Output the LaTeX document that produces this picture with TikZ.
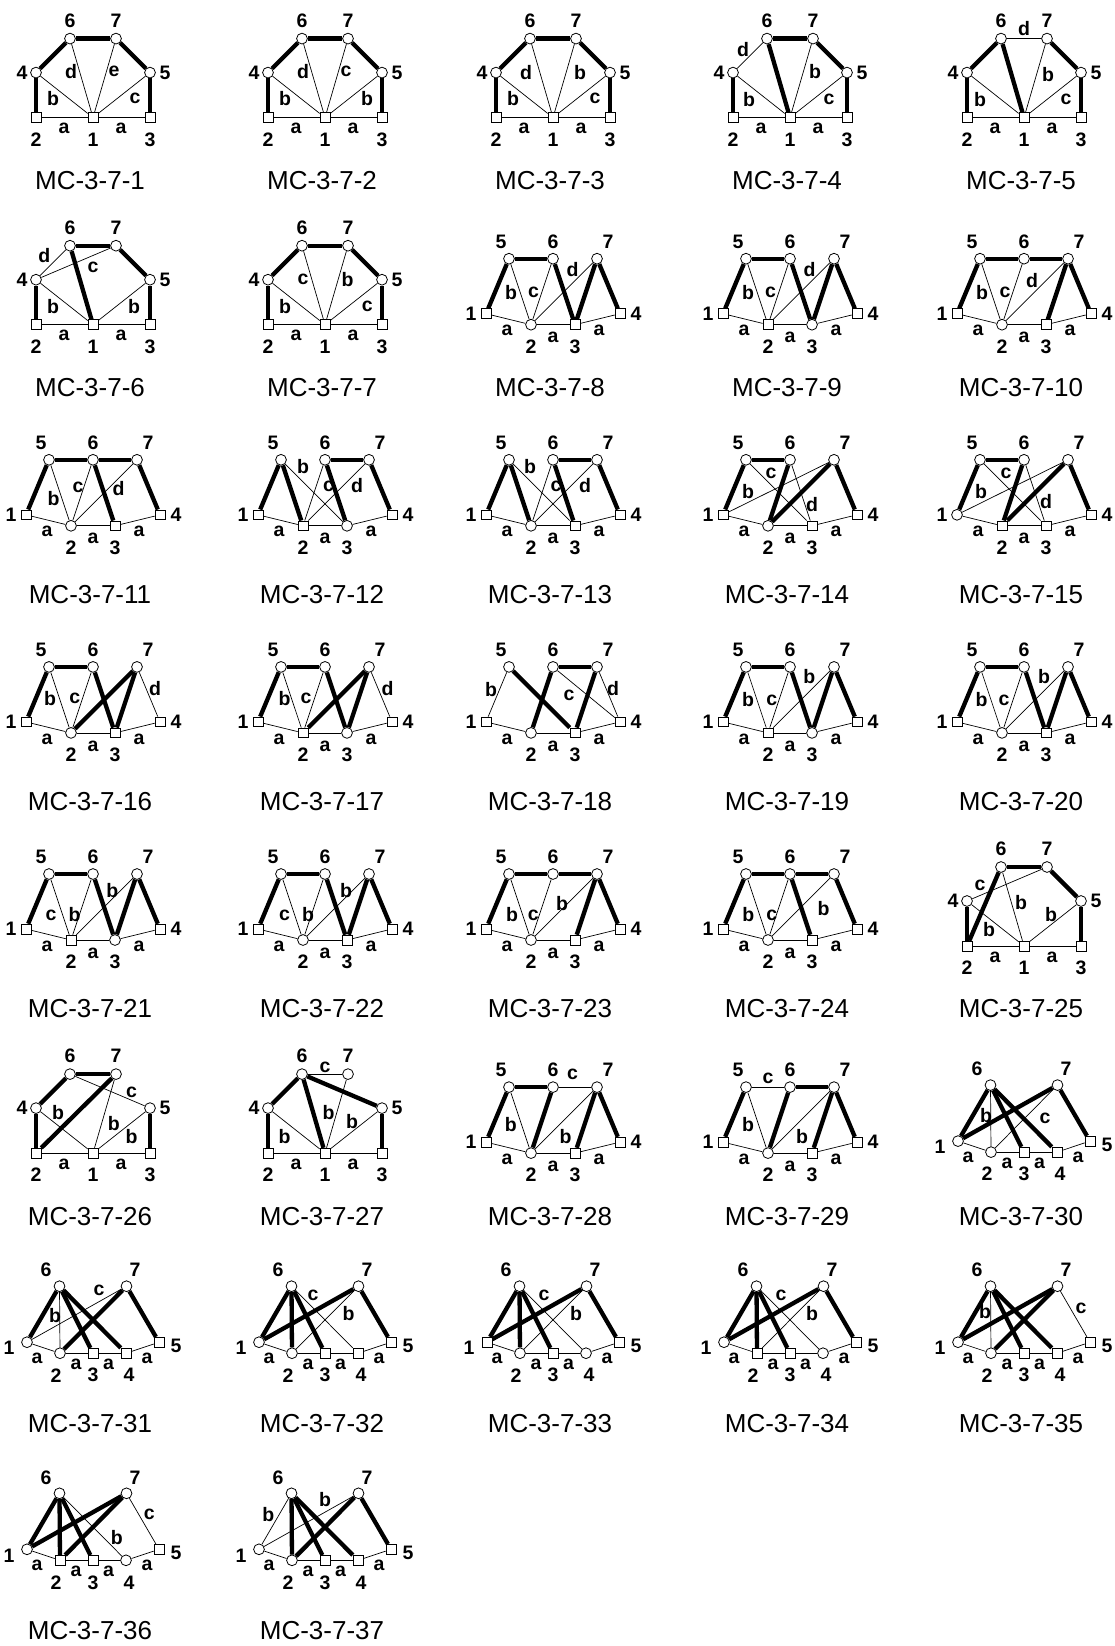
\documentclass[tikz,border=0pt]{standalone}
\usepackage{fontspec}
\setmainfont{Liberation Sans}
\newcommand\nodesA[1]{%
 \node[ndS] (#1-1) at (0,-63) {};
 \node[ndS] (#1-2) at (-57,-63) {};
 \node[ndS] (#1-3) at (57,-63) {};
 \node[ndC] (#1-4) at (-57,-108) {};
 \node[ndC] (#1-5) at (57,-108) {};
 \node[ndC] (#1-6) at (-23,-142) {};
 \node[ndC] (#1-7) at (23,-142) {};
 \node[nlab] (#1-L1) at (0,-41) {1};
 \node[nlab] (#1-L2) at (-57,-41) {2};
 \node[nlab] (#1-L3) at (57,-41) {3};
 \node[nlab] (#1-L4) at (-71,-108) {4};
 \node[nlab] (#1-L5) at (72,-108) {5};
 \node[nlab] (#1-L6) at (-23,-160) {6};
 \node[nlab] (#1-L7) at (23,-160) {7};
 \node[elab] (#1-a1) at (-29,-52) {a};
 \node[elab] (#1-a2) at (28,-52) {a};
}
\newcommand\nodesB[5]{%
 \node[nd#2] (#1-1) at (-67,-80) {};
 \node[nd#3] (#1-2) at (-22,-69) {};
 \node[nd#4] (#1-3) at (22,-69) {};
 \node[nd#5] (#1-4) at (67,-80) {};
 \node[ndC] (#1-5) at (-44,-135) {};
 \node[ndC] (#1-6) at (0,-135) {};
 \node[ndC] (#1-7) at (44,-135) {};
 \node[nlab] (#1-L1) at (-82,-80) {1};
 \node[nlab] (#1-L2) at (-22,-47) {2};
 \node[nlab] (#1-L3) at (22,-47) {3};
 \node[nlab] (#1-L4) at (83,-80) {4};
 \node[nlab] (#1-L5) at (-52,-152) {5};
 \node[nlab] (#1-L6) at (0,-152) {6};
 \node[nlab] (#1-L7) at (55,-152) {7};
 \node[elab] (#1-a1) at (-46,-63) {a};
 \node[elab] (#1-a2) at (0,-56) {a};
 \node[elab] (#1-a3) at (46,-63) {a};
}
\newcommand\nodesC[6]{%
 \node[nd#2] (#1-1) at (-66,-81) {};
 \node[nd#3] (#1-2) at (-33,-70) {};
 \node[nd#4] (#1-3) at (0,-70) {};
 \node[nd#5] (#1-4) at (33,-70) {};
 \node[nd#6] (#1-5) at (66,-81) {};
 \node[ndC] (#1-6) at (-33.5,-137) {};
 \node[ndC] (#1-7) at (33.5,-137) {};
 \node[nlab] (#1-L1) at (-84,-75) {1};
 \node[nlab] (#1-L2) at (-37,-48) {2};
 \node[nlab] (#1-L3) at (0,-48) {3};
 \node[nlab] (#1-L4) at (36,-48) {4};
 \node[nlab] (#1-L5) at (83,-77) {5};
 \node[nlab] (#1-L6) at (-47,-153) {6};
 \node[nlab] (#1-L7) at (42,-153) {7};
 \node[elab] (#1-a1) at (-56,-65) {a};
 \node[elab] (#1-a2) at (-17,-59) {a};
 \node[elab] (#1-a3) at (15.5,-59) {a};
 \node[elab] (#1-a4) at (54,-65) {a};
}
\newcommand\edg[3]{\foreach \u/\v in {#3} {\draw[#2] (#1-\u) -- (#1-\v);}}
\newcommand\elabs[2]{\foreach \t/\px/\py [count=\k] in {#2} {\node[elab] (#1-e\k) at (\px,\py) {\t};}}
\begin{document}
\begin{tikzpicture}[x=1pt,y=-1pt,
  ndS/.style={draw,line width=0.8pt,fill=white,rectangle,minimum size=9.8pt,inner sep=0pt},
  ndC/.style={draw,line width=0.8pt,fill=white,circle,minimum size=10.8pt,inner sep=0pt},
  thk/.style={line width=4.3pt},
  thn/.style={line width=0.7pt},
  nlab/.style={inner sep=0pt,font=\fontsize{19.5}{19.5}\selectfont\bfseries},
  elab/.style={inner sep=0pt,font=\fontsize{19.5}{19.5}\selectfont\bfseries},
  captxt/.style={inner sep=0pt,font=\fontsize{26}{26}\selectfont}]
\fill[white] (0,0) rectangle (1115,1646);
\useasboundingbox (0,0) rectangle (1115,1646);
% ---------------- Row 1
\begin{scope}[shift={(93,180.6)}]
 \nodesA{g1}
 \edg{g1}{thn}{1/2,1/3,1/4,1/6,1/7,1/5}
 \edg{g1}{thk}{2/4,4/6,6/7,7/5,5/3}
 \elabs{g1}{b/-40/-82,c/42/-82,d/-22/-109,e/21/-109}
\end{scope}
\node[captxt] (c1) at (90,180.6) {MC-3-7-1};
\begin{scope}[shift={(325,180.6)}]
 \nodesA{g2}
 \edg{g2}{thn}{1/2,1/3,1/4,1/6,1/7,1/5}
 \edg{g2}{thk}{2/4,4/6,6/7,7/5,5/3}
 \elabs{g2}{b/-40/-82,b/42/-82,d/-22/-109,c/21/-109}
\end{scope}
\node[captxt] (c2) at (322,180.6) {MC-3-7-2};
\begin{scope}[shift={(553,180.6)}]
 \nodesA{g3}
 \edg{g3}{thn}{1/2,1/3,1/4,1/6,1/7,1/5}
 \edg{g3}{thk}{2/4,4/6,6/7,7/5,5/3}
 \elabs{g3}{b/-40/-82,c/42/-82,d/-27/-108,b/27/-108}
\end{scope}
\node[captxt] (c3) at (550,180.6) {MC-3-7-3};
\begin{scope}[shift={(790,180.6)}]
 \nodesA{g4}
 \edg{g4}{thn}{4/6,1/4,1/7,1/5,1/2,1/3}
 \edg{g4}{thk}{2/4,6/7,6/1,7/5,5/3}
 \elabs{g4}{d/-47/-131,b/-41/-81,b/25/-109,c/39/-81}
\end{scope}
\node[captxt] (c4) at (787,180.6) {MC-3-7-4};
\begin{scope}[shift={(1024,180.6)}]
 \nodesA{g5}
 \edg{g5}{thn}{6/7,1/4,1/7,1/5,1/2,1/3}
 \edg{g5}{thk}{2/4,4/6,6/1,7/5,5/3}
 \elabs{g5}{d/0/-152,b/-44/-81,b/24/-106,c/42/-81}
\end{scope}
\node[captxt] (c5) at (1021,180.6) {MC-3-7-5};
% ---------------- Row 2
\begin{scope}[shift={(93,387.7)}]
 \nodesA{g6}
 \edg{g6}{thn}{4/6,4/7,1/4,1/5,1/2,1/3}
 \edg{g6}{thk}{2/4,6/7,7/5,5/3,6/1}
 \elabs{g6}{d/-48.6/-132,c/0/-120,b/-40/-81.5,b/41/-81.5}
\end{scope}
\node[captxt] (c6) at (90,387.7) {MC-3-7-6};
\begin{scope}[shift={(325,387.7)}]
 \nodesA{g7}
 \edg{g7}{thn}{1/2,1/3,1/4,1/6,1/7,1/5}
 \edg{g7}{thk}{2/4,4/6,6/7,7/5,5/3}
 \elabs{g7}{c/-22/-108.5,b/22.7/-108.5,b/-40/-81.5,c/42.3/-81.5}
\end{scope}
\node[captxt] (c7) at (322,387.7) {MC-3-7-7};
\begin{scope}[shift={(553,393.7)}]
 \nodesB{g8}{S}{C}{S}{S}
 \edg{g8}{thn}{1/2,2/3,3/4,5/2,6/2,2/7}
 \edg{g8}{thk}{1/5,5/6,6/3,3/7,7/4}
 \elabs{g8}{b/-42/-101,c/-19.5/-101,d/19.5/-124.5}
\end{scope}
\node[captxt] (c8) at (550,387.7) {MC-3-7-8};
\begin{scope}[shift={(790,393.7)}]
 \nodesB{g9}{S}{S}{C}{S}
 \edg{g9}{thn}{1/2,2/3,3/4,5/2,6/2,2/7}
 \edg{g9}{thk}{1/5,5/6,6/3,3/7,7/4}
 \elabs{g9}{b/-42/-101,c/-19.5/-101,d/19.5/-124.5}
\end{scope}
\node[captxt] (c9) at (787,387.7) {MC-3-7-9};
\begin{scope}[shift={(1024,393.7)}]
 \nodesB{g10}{S}{C}{S}{S}
 \edg{g10}{thn}{1/2,2/3,3/4,5/2,6/2,7/2}
 \edg{g10}{thk}{1/5,5/6,6/7,7/3,7/4}
 \elabs{g10}{b/-42/-101,c/-19/-101,d/8/-113}
\end{scope}
\node[captxt] (c10) at (1021,387.7) {MC-3-7-10};
% ---------------- Row 3
\begin{scope}[shift={(93,594.8)}]
 \nodesB{g11}{S}{C}{S}{S}
 \edg{g11}{thn}{1/2,2/3,3/4,5/2,6/2,2/7}
 \edg{g11}{thk}{1/5,5/6,6/7,6/3,7/4}
 \elabs{g11}{b/-39.5/-96,c/-15/-107,d/25.6/-106}
\end{scope}
\node[captxt] (c11) at (90,594.8) {MC-3-7-11};
\begin{scope}[shift={(325,594.8)}]
 \nodesB{g12}{S}{S}{C}{S}
 \edg{g12}{thn}{1/2,2/3,3/4,5/3,6/2,2/7}
 \edg{g12}{thk}{1/5,5/2,6/7,6/3,7/4}
 \elabs{g12}{b/-22/-128,c/3.6/-108,d/32/-109}
\end{scope}
\node[captxt] (c12) at (322,594.8) {MC-3-7-12};
\begin{scope}[shift={(553,594.8)}]
 \nodesB{g13}{S}{C}{S}{S}
 \edg{g13}{thn}{1/2,2/3,3/4,5/3,6/2,2/7}
 \edg{g13}{thk}{1/5,5/2,6/7,6/3,7/4}
 \elabs{g13}{b/-23/-128,c/3/-108,d/32/-109}
\end{scope}
\node[captxt] (c13) at (550,594.8) {MC-3-7-13};
\begin{scope}[shift={(790,594.8)}]
 \nodesB{g14}{S}{C}{S}{S}
 \edg{g14}{thn}{1/2,2/3,3/4,1/7,5/3,6/3}
 \edg{g14}{thk}{1/5,5/6,6/2,2/7,7/4}
 \elabs{g14}{c/-19/-121.5,b/-42/-103,d/22/-90}
\end{scope}
\node[captxt] (c14) at (787,594.8) {MC-3-7-14};
\begin{scope}[shift={(1024,594.8)}]
 \nodesB{g15}{C}{S}{S}{S}
 \edg{g15}{thn}{1/2,2/3,3/4,1/7,5/3,6/3}
 \edg{g15}{thk}{1/5,5/6,6/2,2/7,7/4}
 \elabs{g15}{c/-18/-121.5,b/-43/-103,d/22/-93}
\end{scope}
\node[captxt] (c15) at (1021,594.8) {MC-3-7-15};
% ---------------- Row 4
\begin{scope}[shift={(93,801.9)}]
 \nodesB{g16}{S}{C}{S}{S}
 \edg{g16}{thn}{1/2,2/3,3/4,5/2,6/2,7/4}
 \edg{g16}{thk}{1/5,5/6,6/3,2/7,7/3}
 \elabs{g16}{b/-43/-103.6,c/-18.3/-103.6,d/62/-113}
\end{scope}
\node[captxt] (c16) at (90,801.9) {MC-3-7-16};
\begin{scope}[shift={(325,801.9)}]
 \nodesB{g17}{S}{S}{C}{S}
 \edg{g17}{thn}{1/2,2/3,3/4,5/2,6/2,7/4}
 \edg{g17}{thk}{1/5,5/6,6/3,2/7,7/3}
 \elabs{g17}{b/-40.5/-103.6,c/-19/-103.6,d/62.6/-113}
\end{scope}
\node[captxt] (c17) at (322,801.9) {MC-3-7-17};
\begin{scope}[shift={(553,801.9)}]
 \nodesB{g18}{S}{C}{S}{S}
 \edg{g18}{thn}{1/2,2/3,3/4,5/1,6/4,7/4}
 \edg{g18}{thk}{5/3,6/2,6/7,7/3}
 \elabs{g18}{b/-62/-112,c/16/-107,d/60/-113}
\end{scope}
\node[captxt] (c18) at (550,801.9) {MC-3-7-18};
\begin{scope}[shift={(790,801.9)}]
 \nodesB{g19}{S}{S}{C}{S}
 \edg{g19}{thn}{1/2,2/3,3/4,5/2,6/2,2/7}
 \edg{g19}{thk}{1/5,5/6,6/3,3/7,7/4}
 \elabs{g19}{b/-42/-102,c/-18.3/-102,b/19.4/-125}
\end{scope}
\node[captxt] (c19) at (787,801.9) {MC-3-7-19};
\begin{scope}[shift={(1024,801.9)}]
 \nodesB{g20}{S}{C}{S}{S}
 \edg{g20}{thn}{1/2,2/3,3/4,5/2,6/2,2/7}
 \edg{g20}{thk}{1/5,5/6,6/3,3/7,7/4}
 \elabs{g20}{b/-42.5/-102,c/-20/-102,b/20/-125}
\end{scope}
\node[captxt] (c20) at (1021,801.9) {MC-3-7-20};
% ---------------- Row 5
\begin{scope}[shift={(93,1009)}]
 \nodesB{g21}{S}{S}{C}{S}
 \edg{g21}{thn}{1/2,2/3,3/4,5/2,6/2,2/7}
 \edg{g21}{thk}{1/5,5/6,6/3,3/7,7/4}
 \elabs{g21}{c/-42/-94,b/-18.3/-94,b/19.4/-118}
\end{scope}
\node[captxt] (c21) at (90,1009) {MC-3-7-21};
\begin{scope}[shift={(325,1009)}]
 \nodesB{g22}{S}{C}{S}{S}
 \edg{g22}{thn}{1/2,2/3,3/4,5/2,6/2,2/7}
 \edg{g22}{thk}{1/5,5/6,6/3,3/7,7/4}
 \elabs{g22}{c/-40.5/-94,b/-17/-94,b/21/-118}
\end{scope}
\node[captxt] (c22) at (322,1009) {MC-3-7-22};
\begin{scope}[shift={(553,1009)}]
 \nodesB{g23}{S}{C}{S}{S}
 \edg{g23}{thn}{1/2,2/3,3/4,5/2,6/2,2/7}
 \edg{g23}{thk}{1/5,5/6,6/7,7/3,7/4}
 \elabs{g23}{b/-41/-94,c/-19.6/-94,b/9/-105.7}
\end{scope}
\node[captxt] (c23) at (550,1009) {MC-3-7-23};
\begin{scope}[shift={(790,1009)}]
 \nodesB{g24}{S}{C}{S}{S}
 \edg{g24}{thn}{1/2,2/3,3/4,5/2,6/2,2/7}
 \edg{g24}{thk}{1/5,5/6,6/7,6/3,7/4}
 \elabs{g24}{b/-41.8/-94,c/-18.3/-94,b/33.6/-100.7}
\end{scope}
\node[captxt] (c24) at (787,1009) {MC-3-7-24};
\begin{scope}[shift={(1024,1009)}]
 \nodesA{g25}
 \edg{g25}{thn}{6/1,4/7,4/1,5/1,2/1,1/3}
 \edg{g25}{thk}{6/7,7/5,5/3,2/4,2/6}
 \elabs{g25}{c/-44/-124,b/-3/-106,b/-35/-79,b/27/-94}
\end{scope}
\node[captxt] (c25) at (1021,1009) {MC-3-7-25};
% ---------------- Row 6
\begin{scope}[shift={(93,1216.1)}]
 \nodesA{g26}
 \edg{g26}{thn}{6/5,7/1,4/1,5/1,2/1,1/3}
 \edg{g26}{thk}{6/7,4/6,2/4,2/7,5/3}
 \elabs{g26}{b/-35/-104,c/38.6/-124,b/20.8/-93,b/38.6/-79.4}
\end{scope}
\node[captxt] (c26) at (90,1216.1) {MC-3-7-26};
\begin{scope}[shift={(325,1216.1)}]
 \nodesA{g27}
 \edg{g27}{thn}{6/7,7/1,4/1,5/1,2/1,1/3}
 \edg{g27}{thk}{4/6,2/4,6/1,6/5,5/3}
 \elabs{g27}{c/0/-149,b/-40.5/-79.4,b/3.6/-104,b/27/-94.4}
\end{scope}
\node[captxt] (c27) at (322,1216.1) {MC-3-7-27};
\begin{scope}[shift={(553,1222.1)}]
 \nodesB{g28}{S}{C}{S}{S}
 \edg{g28}{thn}{1/2,2/3,3/4,6/7,5/2,2/7}
 \edg{g28}{thk}{1/5,5/6,6/2,7/3,7/4}
 \elabs{g28}{c/19.6/-148,b/-42.3/-98,b/12.5/-85.4}
\end{scope}
\node[captxt] (c28) at (550,1216.1) {MC-3-7-28};
\begin{scope}[shift={(790,1222.1)}]
 \nodesB{g29}{S}{C}{S}{S}
 \edg{g29}{thn}{1/2,2/3,3/4,5/6,5/2,2/7}
 \edg{g29}{thk}{1/5,6/7,6/2,7/3,7/4}
 \elabs{g29}{c/-22/-144,b/-42/-98,b/12/-85.4}
\end{scope}
\node[captxt] (c29) at (787,1216.1) {MC-3-7-29};
\begin{scope}[shift={(1024,1222.1)}]
 \nodesC{g30}{C}{C}{S}{S}{S}
 \edg{g30}{thn}{1/2,2/3,3/4,4/5,6/2,7/2}
 \edg{g30}{thk}{6/1,6/3,6/4,7/1,7/5}
 \elabs{g30}{b/-38/-107,c/21/-104}
\end{scope}
\node[captxt] (c30) at (1021,1216.1) {MC-3-7-30};
% ---------------- Row 7
\begin{scope}[shift={(93,1423.2)}]
 \nodesC{g31}{C}{C}{S}{S}{S}
 \edg{g31}{thn}{1/2,2/3,3/4,4/5,6/2,7/1}
 \edg{g31}{thk}{6/1,6/3,6/4,7/2,7/5}
 \elabs{g31}{c/6/-133,b/-38/-108}
\end{scope}
\node[captxt] (c31) at (90,1423.2) {MC-3-7-31};
\begin{scope}[shift={(325,1423.2)}]
 \nodesC{g32}{C}{C}{S}{S}{S}
 \edg{g32}{thn}{1/2,2/3,3/4,4/5,6/4,7/2}
 \edg{g32}{thk}{6/1,6/2,6/3,7/1,7/5}
 \elabs{g32}{c/-12/-128,b/23.5/-110}
\end{scope}
\node[captxt] (c32) at (322,1423.2) {MC-3-7-32};
\begin{scope}[shift={(553,1423.2)}]
 \nodesC{g33}{S}{C}{S}{C}{S}
 \edg{g33}{thn}{1/2,2/3,3/4,4/5,6/4,7/2}
 \edg{g33}{thk}{6/1,6/2,6/3,7/1,7/5}
 \elabs{g33}{c/-9/-128,b/23/-110}
\end{scope}
\node[captxt] (c33) at (550,1423.2) {MC-3-7-33};
\begin{scope}[shift={(790,1423.2)}]
 \nodesC{g34}{C}{S}{S}{C}{S}
 \edg{g34}{thn}{1/2,2/3,3/4,4/5,6/4,7/2}
 \edg{g34}{thk}{6/1,6/2,6/3,7/1,7/5}
 \elabs{g34}{c/-9/-128,b/22/-110}
\end{scope}
\node[captxt] (c34) at (787,1423.2) {MC-3-7-34};
\begin{scope}[shift={(1024,1423.2)}]
 \nodesC{g35}{C}{C}{S}{S}{S}
 \edg{g35}{thn}{1/2,2/3,3/4,4/5,6/2,7/5}
 \edg{g35}{thk}{6/1,6/3,6/4,7/1,7/2}
 \elabs{g35}{b/-39/-111.5,c/57/-115}
\end{scope}
\node[captxt] (c35) at (1021,1423.2) {MC-3-7-35};
% ---------------- Row 8
\begin{scope}[shift={(93,1630.3)}]
 \nodesC{g36}{C}{S}{S}{C}{S}
 \edg{g36}{thn}{1/2,2/3,3/4,4/5,6/4,7/5}
 \edg{g36}{thk}{6/1,6/2,6/3,7/1,7/2}
 \elabs{g36}{b/23.8/-92.7,c/56.2/-115.7}
\end{scope}
\node[captxt] (c36) at (90,1630.3) {MC-3-7-36};
\begin{scope}[shift={(325,1630.3)}]
 \nodesC{g37}{C}{C}{S}{S}{S}
 \edg{g37}{thn}{1/2,2/3,3/4,4/5,6/1,7/1}
 \edg{g37}{thk}{6/2,6/3,6/4,7/2,7/5}
 \elabs{g37}{b/-56.6/-115.7,b/0/-130.7}
\end{scope}
\node[captxt] (c37) at (322,1630.3) {MC-3-7-37};
\end{tikzpicture}
\end{document}
